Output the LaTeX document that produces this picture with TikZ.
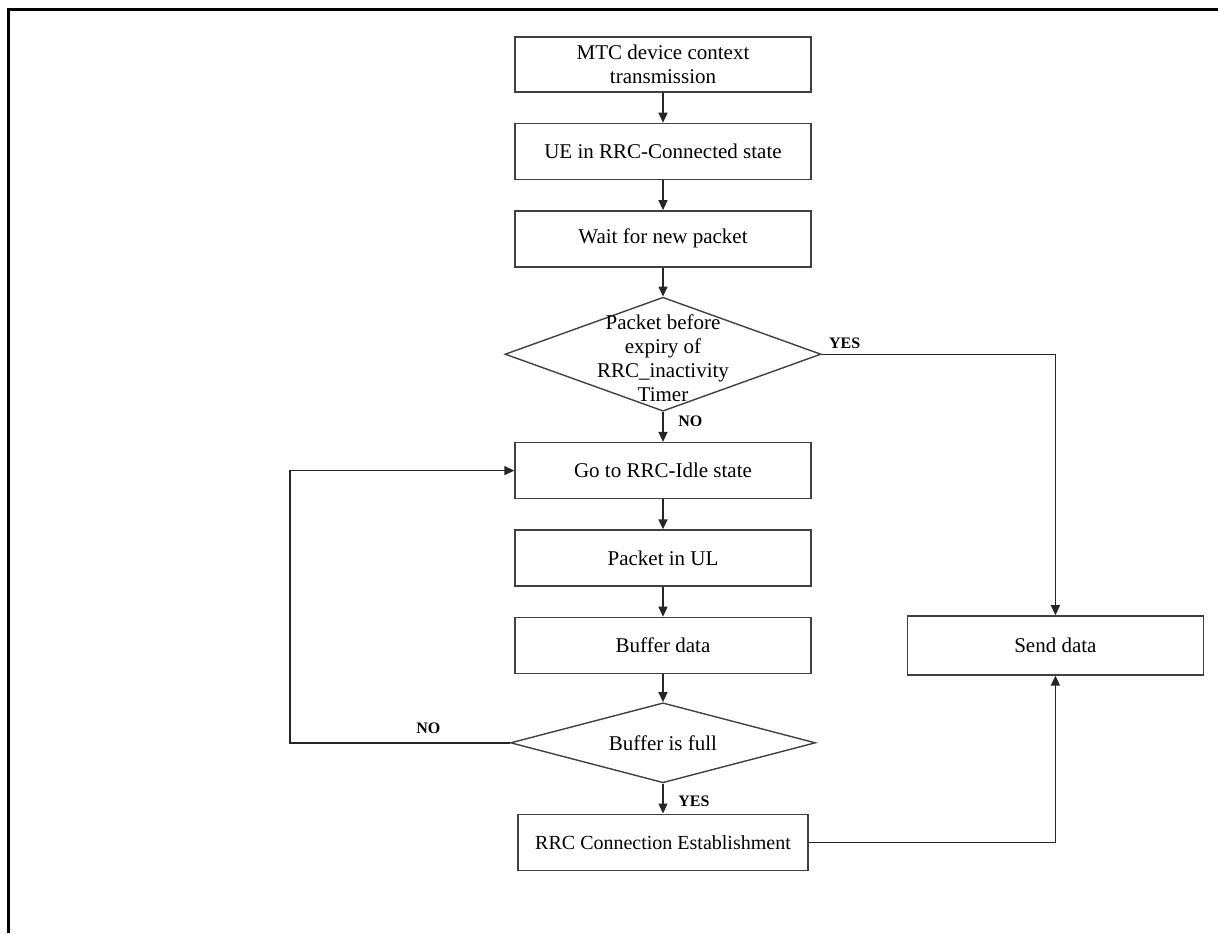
\documentclass[tikz,border=0pt]{standalone}
\usepackage{fontspec}
\setmainfont{Liberation Serif}
\usetikzlibrary{shapes.geometric,arrows.meta,positioning}
\tikzset{
  procbox/.style={rectangle,draw=black!75,line width=0.7pt,minimum width=148pt,minimum height=28pt,align=center,inner sep=1pt,font=\fontsize{10.5}{12}\selectfont},
  decnode/.style={diamond,draw=black!75,line width=0.7pt,inner sep=0pt},
  declbl/.style={align=center,font=\fontsize{10.5}{12}\selectfont},
  anslbl/.style={font=\fontsize{8}{9}\selectfont\bfseries},
  arr/.style={-{Triangle[width=4.5pt,length=5pt]},line width=0.7pt,draw=black!85},
  framel/.style={line width=1.5pt,draw=black}
}
\begin{document}
\begin{tikzpicture}[x=0.5pt,y=-0.5pt,node distance=15pt]
  \useasboundingbox (0,0) rectangle (1218,933);
  \draw[framel] (8,933) -- (8,9) -- (1218,9);

  %% MAIN COLUMN
  \node[procbox,minimum height=27.5pt] (ctx) at (663,64.5) {MTC device context\\transmission};
  \node[procbox,below=of ctx] (conn) {UE in RRC-Connected state};
  \node[procbox,below=of conn] (wait) {Wait for new packet};
  \node[decnode,below=14.5pt of wait,minimum width=158pt,minimum height=57pt,
        label={[declbl,yshift=-2pt]center:Packet before\\expiry of\\RRC\_inactivity\\Timer}]
    (timer) {};
  \node[procbox,below=of timer] (idle) {Go to RRC-Idle state};
  \node[procbox,below=of idle] (ul) {Packet in UL};
  \node[procbox,below=of ul] (buf) {Buffer data};
  \node[decnode,below=14pt of buf,minimum width=152.5pt,minimum height=40pt,
        label={[declbl]center:Buffer is full}]
    (full) {};
  \node[procbox,below=of full,minimum width=145pt,font=\fontsize{10}{12}\selectfont] (est) {RRC Connection Establishment};

  %% SIDE
  \node[procbox,right=47.5pt of buf,minimum height=29.5pt] (send) {Send data};

  %% CONNECTIONS
  \draw[arr] (ctx) -- (conn);
  \draw[arr] (conn) -- (wait);
  \draw[arr] (wait) -- (timer);
  \draw[arr] (timer.south) -- (idle.north)
    node[anslbl,pos=0.3,right,xshift=4pt]{NO};
  \draw[arr] (timer.east) node[anslbl,above right,yshift=-1pt]{YES} -| (send.north);
  \draw[arr] (idle) -- (ul);
  \draw[arr] (ul) -- (buf);
  \draw[arr] (buf) -- (full);
  \draw[arr] (full.south) -- (est.north)
    node[anslbl,pos=0.6,right,xshift=4pt]{YES};
  \draw[arr] (full.west) -- ++(-110pt,0)
    node[anslbl,pos=0.37,above,yshift=1pt]{NO} |- (idle.west);
  \draw[arr] (est.east) -| (send.south);
\end{tikzpicture}
\end{document}
